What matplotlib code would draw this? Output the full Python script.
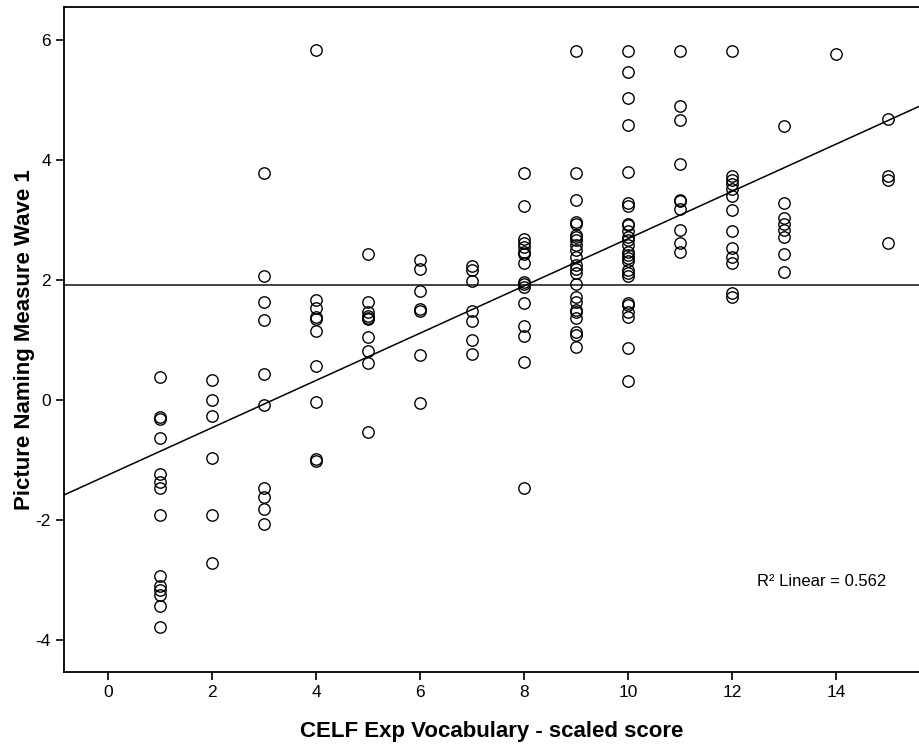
import numpy as np
import matplotlib
matplotlib.use('Agg')
import matplotlib.pyplot as plt

plt.rcParams['font.family'] = ['Liberation Sans', 'DejaVu Sans']
plt.rcParams['axes.unicode_minus'] = False

# Picture naming scores, grouped by CELF scaled score
scores_1 = [0.39, -0.28, -0.32, -0.64, -1.23, -1.37, -1.47, -1.92, -2.94, -3.11, -3.17, -3.25, -3.43, -3.78]
scores_2 = [0.34, 0.0, -0.26, -0.96, -1.92, -2.72]
scores_3 = [3.78, 2.07, 1.64, 1.33, 0.43, -0.09, -1.47, -1.61, -1.82, -2.06]
scores_4 = [5.83, 1.67, 1.53, 1.38, 1.35, 1.15, 0.56, -0.03, -0.99, -1.01]
scores_5 = [2.43, 1.63, 1.47, 1.40, 1.37, 1.35, 1.05, 0.82, 0.62, -0.53]
scores_6 = [2.34, 2.19, 1.81, 1.51, 1.49, 0.75, -0.05]
scores_7 = [2.24, 2.16, 1.99, 1.49, 1.32, 1.00, 0.76]
scores_8 = [3.79, 3.23, 2.68, 2.62, 2.55, 2.47, 2.43, 2.28, 1.97, 1.93, 1.89, 1.61, 1.23, 1.07, 0.64, -1.47]
scores_9 = [5.82, 3.79, 3.33, 2.96, 2.93, 2.75, 2.71, 2.67, 2.58, 2.50, 2.38, 2.25, 2.19, 2.11,
            1.94, 1.72, 1.64, 1.50, 1.47, 1.36, 1.14, 1.08, 0.89]
scores_10 = [5.82, 5.46, 5.04, 4.58, 3.80, 3.29, 3.23, 2.94, 2.92, 2.81, 2.72, 2.67, 2.58, 2.47,
             2.42, 2.36, 2.31, 2.17, 2.11, 2.07, 1.61, 1.59, 1.47, 1.38, 0.87, 0.32]
scores_11 = [5.82, 4.90, 4.66, 3.93, 3.33, 3.31, 3.18, 2.83, 2.62, 2.46]
scores_12 = [5.82, 3.73, 3.67, 3.60, 3.51, 3.40, 3.17, 2.82, 2.53, 2.39, 2.28, 1.79, 1.72]
scores_13 = [4.56, 3.29, 3.03, 2.93, 2.83, 2.71, 2.43, 2.14]
scores_14 = [5.77]
scores_15 = [4.68, 3.73, 3.67, 2.62]

celf_levels = list(range(1, 16))
naming_groups = [scores_1, scores_2, scores_3, scores_4, scores_5, scores_6, scores_7, scores_8,
                 scores_9, scores_10, scores_11, scores_12, scores_13, scores_14, scores_15]

# Reference lines as shown in the chart
mean_naming = 1.91
fit_intercept = -1.25
fit_slope = 0.394
r2_label = "R\u00b2 Linear = 0.562"

x_ticks = [0, 2, 4, 6, 8, 10, 12, 14]
y_ticks = [-4, -2, 0, 2, 4, 6]

celf = np.concatenate([[lvl] * len(g) for lvl, g in zip(celf_levels, naming_groups)])
naming = np.concatenate(naming_groups)

fig = plt.figure(figsize=(9.19, 7.44), dpi=100)
ax = fig.add_axes([0.0696, 0.0972, 0.9304, 0.8934])

xlim = (-0.85, 15.59)
ax.set_xlim(*xlim)
ax.set_ylim(-4.53, 6.55)

ax.plot(celf, naming, linestyle='none', marker='o', markersize=8.2,
        markerfacecolor='none', markeredgecolor='black', markeredgewidth=1.0, zorder=3)

ax.axhline(mean_naming, color='#333333', linewidth=1.3, zorder=2)
fx = np.array(xlim)
ax.plot(fx, fit_intercept + fit_slope * fx, color='black', linewidth=1.1, zorder=2)

ax.text(12.47, -3.02, r2_label, fontsize=12, ha='left', va='center')

ax.set_xticks(x_ticks)
ax.set_yticks(y_ticks)
ax.tick_params(direction='out', length=6, width=1.2, labelsize=12.5, colors='black')
for side in ['left', 'bottom', 'top']:
    ax.spines[side].set_linewidth(1.3)
ax.spines['right'].set_visible(False)

ax.set_xlabel("CELF Exp Vocabulary - scaled score", fontsize=16, fontweight='bold', labelpad=15)
ax.set_ylabel("Picture Naming Measure Wave 1", fontsize=16, fontweight='bold', labelpad=0)

fig.savefig("out.png", dpi=100)
